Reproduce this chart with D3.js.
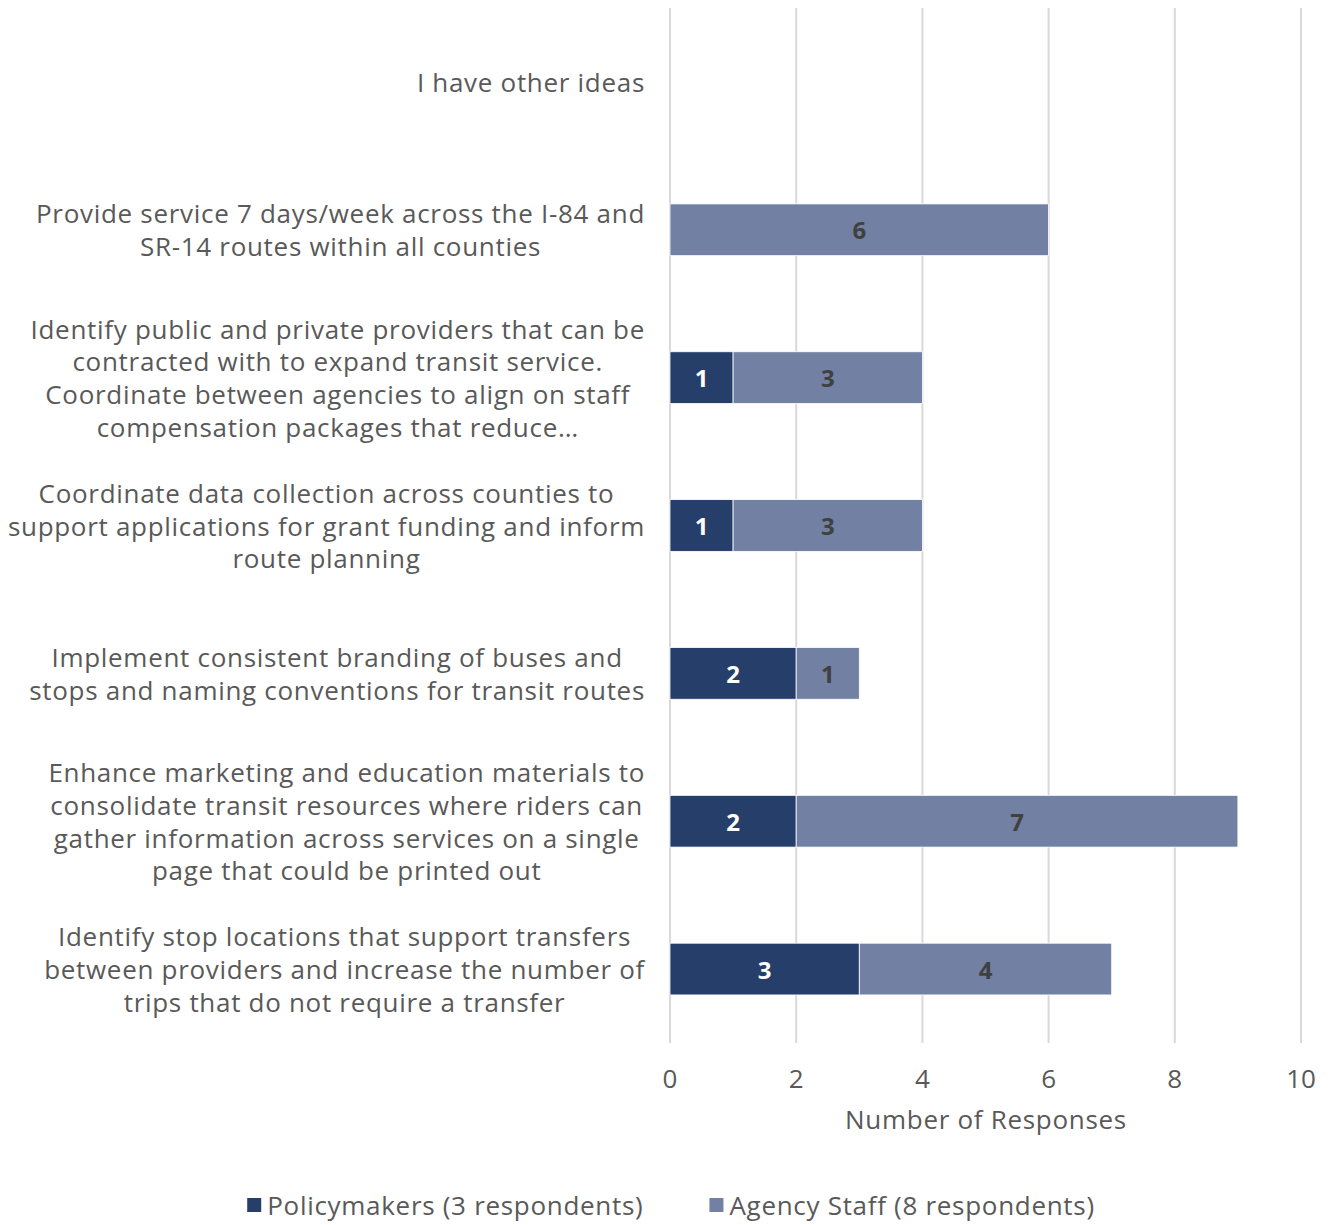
<!DOCTYPE html>
<html>
<head>
<meta charset="utf-8">
<script src="https://cdn.jsdelivr.net/npm/d3@7"></script>
<style>
  html, body { margin: 0; padding: 0; background: #fff; }
  svg { display: block; }
  text { font-family: "Open Sans", "Lato", sans-serif; }
</style>
</head>
<body>
<svg id="chart" width="1330" height="1225"></svg>
<script>
// Survey strategies, top to bottom; each label is split into its display lines
const categories = [
  ["I have other ideas"],
  ["Provide service 7 days/week across the I-84 and", "SR-14 routes within all counties"],
  ["Identify public and private providers that can be", "contracted with to expand transit service.", "Coordinate between agencies to align on staff", "compensation packages that reduce…"],
  ["Coordinate data collection across counties to", "support applications for grant funding and inform", "route planning"],
  ["Implement consistent branding of buses and", "stops and naming conventions for transit routes"],
  ["Enhance marketing and education materials to", "consolidate transit resources where riders can", "gather information across services on a single", "page that could be printed out"],
  ["Identify stop locations that support transfers", "between providers and increase the number of", "trips that do not require a transfer"]
];
const policymakers = [0, 0, 1, 1, 2, 2, 3];
const agencyStaff  = [0, 6, 3, 3, 1, 7, 4];
const seriesNames  = ["Policymakers (3 respondents)", "Agency Staff (8 respondents)"];
const seriesColors = ["#253e6a", "#7180a3"];
const labelColors  = ["#ffffff", "#404040"];
const xTicks = [0, 2, 4, 6, 8, 10];
const xTitle = "Number of Responses";

const svg = d3.select("#chart");
const textColor = "#595959";
const fontSize = 26;
const spacing = 0.7;

const x = d3.scaleLinear().domain([0, 10]).range([670, 1301]);
const y = d3.scaleBand()
  .domain(d3.range(categories.length))
  .range([8, 1043])
  .paddingInner(0.65)
  .paddingOuter(0.325);

// vertical gridlines
svg.append("g")
  .selectAll("line")
  .data(xTicks)
  .join("line")
  .attr("x1", d => x(d)).attr("x2", d => x(d))
  .attr("y1", 8).attr("y2", 1043)
  .attr("stroke", "#d9d9d9")
  .attr("stroke-width", 2);

// stacked bars
const rows = categories.map((c, i) => ({ i, vals: [policymakers[i], agencyStaff[i]] }));
const segs = [];
rows.forEach(r => {
  let acc = 0;
  r.vals.forEach((v, s) => {
    if (v > 0) segs.push({ i: r.i, s, x0: acc, x1: acc + v, v });
    acc += v;
  });
});

const bars = svg.append("g");
bars.selectAll("rect")
  .data(segs)
  .join("rect")
  .attr("x", d => x(d.x0))
  .attr("width", d => x(d.x1) - x(d.x0))
  .attr("y", d => y(d.i))
  .attr("height", y.bandwidth())
  .attr("fill", d => seriesColors[d.s])
  .attr("stroke", "#ffffff")
  .attr("stroke-width", 0.8);

bars.selectAll("text")
  .data(segs)
  .join("text")
  .attr("x", d => (x(d.x0) + x(d.x1)) / 2)
  .attr("y", d => y(d.i) + y.bandwidth() / 2)
  .attr("text-anchor", "middle")
  .attr("dominant-baseline", "central")
  .attr("font-size", 24)
  .attr("font-weight", "bold")
  .attr("fill", d => labelColors[d.s])
  .text(d => d.v);

// category labels: block right-aligned, lines centred within the block
const lineH = 32.7;
const labelRight = 645;
const labels = svg.append("g");
categories.forEach((lines, i) => {
  const g = labels.append("g");
  const cy = y(i) + y.bandwidth() / 2;
  const texts = lines.map((ln, k) =>
    g.append("text")
      .attr("y", cy + (k - (lines.length - 1) / 2) * lineH)
      .attr("dominant-baseline", "central")
      .attr("text-anchor", "middle")
      .attr("font-size", fontSize)
      .attr("letter-spacing", spacing)
      .attr("fill", textColor)
      .text(ln)
  );
  const maxW = d3.max(texts, t => t.node().getComputedTextLength());
  texts.forEach(t => t.attr("x", labelRight - maxW / 2));
});

// x axis tick labels
svg.append("g")
  .selectAll("text")
  .data(xTicks)
  .join("text")
  .attr("x", d => x(d))
  .attr("y", 1078)
  .attr("text-anchor", "middle")
  .attr("dominant-baseline", "central")
  .attr("font-size", fontSize)
  .attr("fill", textColor)
  .text(d => d);

svg.append("text")
  .attr("x", 986)
  .attr("y", 1119)
  .attr("text-anchor", "middle")
  .attr("dominant-baseline", "central")
  .attr("font-size", fontSize)
  .attr("letter-spacing", spacing)
  .attr("fill", textColor)
  .text(xTitle);

// legend, centred under the chart
const legend = svg.append("g");
const items = seriesNames.map((name, s) => {
  const g = legend.append("g");
  g.append("rect").attr("width", 14).attr("height", 14).attr("y", -7).attr("fill", seriesColors[s]);
  const t = g.append("text")
    .attr("x", 20)
    .attr("dominant-baseline", "central")
    .attr("font-size", fontSize)
    .attr("letter-spacing", spacing)
    .attr("fill", textColor)
    .text(name);
  return { g, w: 20 + t.node().getComputedTextLength() };
});
const gap = 66;
const total = d3.sum(items, d => d.w) + gap * (items.length - 1);
let lx = 671 - total / 2;
items.forEach(it => {
  it.g.attr("transform", `translate(${lx},1205)`);
  lx += it.w + gap;
});
</script>
</body>
</html>
